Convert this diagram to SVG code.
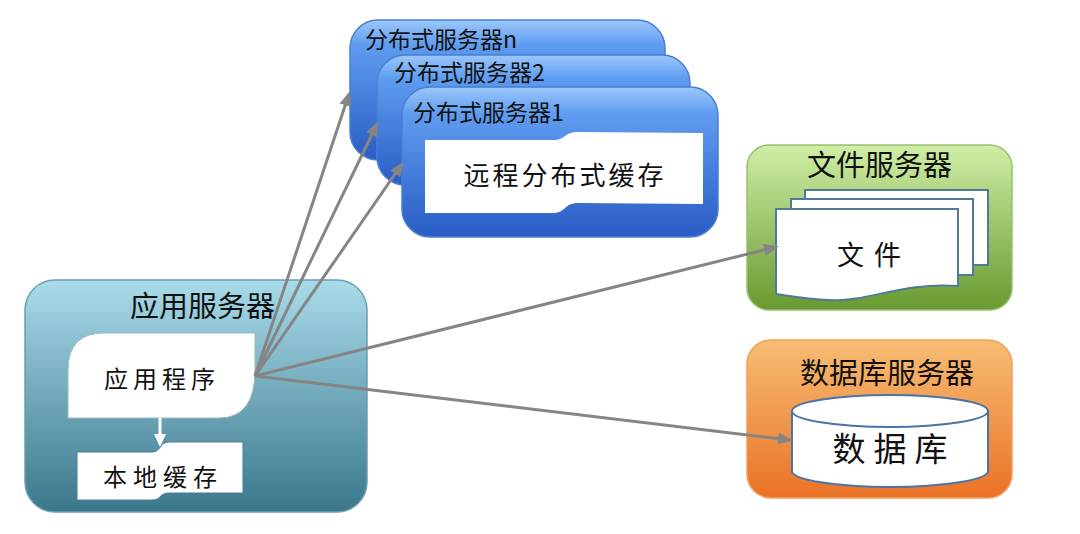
<svg xmlns="http://www.w3.org/2000/svg" width="1080" height="534" viewBox="0 0 1080 534">
<defs>
<linearGradient id="gBlue" x1="0" y1="0" x2="0" y2="1">
<stop offset="0" stop-color="#9cc8fb"/>
<stop offset="0.18" stop-color="#5e9cf0"/>
<stop offset="1" stop-color="#2a5cc4"/>
</linearGradient>
<linearGradient id="gTeal" x1="0" y1="0" x2="0" y2="1">
<stop offset="0" stop-color="#a9dbea"/>
<stop offset="1" stop-color="#3a778b"/>
</linearGradient>
<linearGradient id="gGreen" x1="0" y1="0" x2="0" y2="1">
<stop offset="0" stop-color="#d0eea6"/>
<stop offset="1" stop-color="#68992f"/>
</linearGradient>
<linearGradient id="gOrange" x1="0" y1="0" x2="0" y2="1">
<stop offset="0" stop-color="#f7bd74"/>
<stop offset="1" stop-color="#ea7226"/>
</linearGradient>
<marker id="ah" markerUnits="userSpaceOnUse" markerWidth="15" markerHeight="12" viewBox="0 0 15 12" refX="12" refY="6" orient="auto">
<path d="M0,0 L15,6 L0,12 Z" fill="#858585"/>
</marker>
<marker id="ahw" markerUnits="userSpaceOnUse" markerWidth="13" markerHeight="12" viewBox="0 0 13 12" refX="10" refY="6" orient="auto">
<path d="M0,0 L13,6 L0,12 Z" fill="#ffffff"/>
</marker>
</defs>
<style>
.title{font-family:"Noto Sans CJK SC","Noto Sans",sans-serif;fill:#111;}
.kai{font-family:"Noto Sans CJK SC","Noto Sans",sans-serif;fill:#111;text-anchor:middle;}
.blue{fill:url(#gBlue);stroke:#4a7fd2;stroke-width:1.5;}
.white{fill:#ffffff;}
.doc{fill:#ffffff;stroke:#4f7a98;stroke-width:2;}
.conn{stroke:#858585;stroke-width:3;fill:none;marker-end:url(#ah);}
</style>
<rect width="1080" height="534" fill="#ffffff"/>

<g id="dist-n">
<rect class="blue" x="350" y="20" width="315" height="140" rx="28"/>
<text class="title" x="365" y="48" font-size="23">分布式服务器n</text>
</g>
<g id="dist-2">
<rect class="blue" x="377" y="55" width="313" height="130" rx="28"/>
<text class="title" x="394" y="81" font-size="23">分布式服务器2</text>
</g>
<g id="dist-1">
<rect class="blue" x="402" y="87" width="316" height="150" rx="28"/>
<text class="title" x="413" y="121" font-size="23">分布式服务器1</text>
<path class="white" d="M425,140 L553,140 C566,140 564,132 578,132 L703,133 L703,204 L578,203 C564,203 566,213 553,213 L425,213 Z"/>
<text class="kai" x="565" y="185" font-size="26" letter-spacing="3">远程分布式缓存</text>
</g>

<g id="app-server">
<rect x="25" y="280" width="342" height="232" rx="30" fill="url(#gTeal)" stroke="#6a9fb0" stroke-width="1.5"/>
<text class="title" x="130" y="317" font-size="29">应用服务器</text>
<path d="M68,418 L68,370 Q68,333 104,333 L255,333 L255,370 Q255,418 219,418 Z" fill="#ffffff" stroke="#9ab8c4" stroke-width="1"/>
<text class="kai" x="162" y="388" font-size="24" letter-spacing="5">应用程序</text>
<line x1="160" y1="418" x2="160" y2="444" stroke="#ffffff" stroke-width="3" marker-end="url(#ahw)"/>
<path d="M77,452 L152,452 C162,452 158,442 170,442 L243,442 L243,493 L170,493 C158,493 162,500 152,500 L77,500 Z" fill="#ffffff" stroke="#4f7a98" stroke-width="1"/>
<text class="kai" x="163" y="486" font-size="24" letter-spacing="6">本地缓存</text>
</g>

<g id="file-server">
<rect x="747" y="145" width="265" height="165" rx="22" fill="url(#gGreen)" stroke="#98c070" stroke-width="1.5"/>
<text class="title" x="807" y="176" font-size="29">文件服务器</text>
<rect class="doc" x="805" y="190" width="183" height="75"/>
<rect class="doc" x="791" y="199" width="182" height="76"/>
<path class="doc" d="M776,209 L958,209 L958,286 C900,282 870,302 830,300 C805,299 790,296 776,294 Z"/>
<text class="kai" x="874" y="265" font-size="27" letter-spacing="10">文件</text>
</g>

<g id="db-server">
<rect x="747" y="340" width="265" height="158" rx="24" fill="url(#gOrange)" stroke="#f0a060" stroke-width="1.5"/>
<text class="title" x="800" y="384" font-size="29">数据库服务器</text>
<path d="M792,411 L792,471 A98,16 0 0 0 988,471 L988,411" fill="#ffffff" stroke="#4a74a8" stroke-width="2"/>
<ellipse cx="890" cy="411" rx="98" ry="16" fill="#ffffff" stroke="#4a74a8" stroke-width="2"/>
<text class="kai" x="894" y="461" font-size="33" letter-spacing="8">数据库</text>
</g>

<g id="connectors">
<line class="conn" x1="255" y1="376" x2="349" y2="94"/>
<line class="conn" x1="255" y1="376" x2="377" y2="124"/>
<line class="conn" x1="255" y1="376" x2="402" y2="164"/>
<line class="conn" x1="255" y1="376" x2="776" y2="247"/>
<line class="conn" x1="255" y1="376" x2="790" y2="440"/>
</g>
</svg>
